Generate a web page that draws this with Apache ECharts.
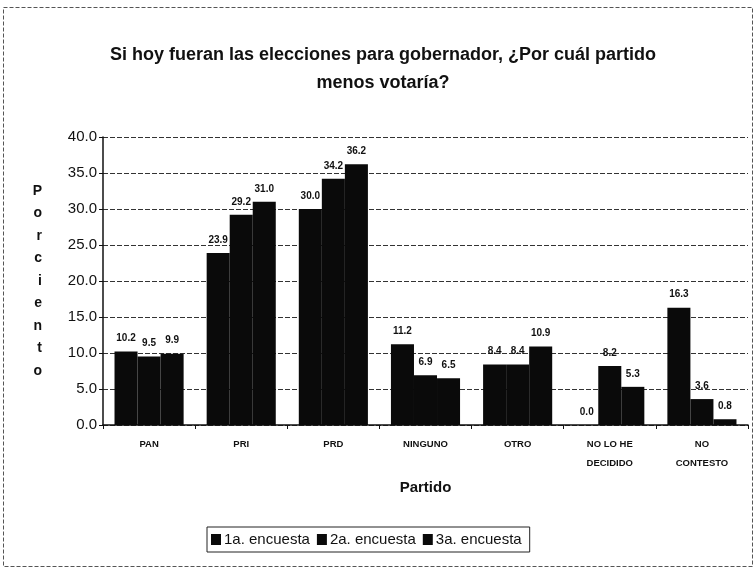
<!DOCTYPE html>
<html>
<head>
<meta charset="utf-8">
<script src="https://cdn.jsdelivr.net/npm/echarts@6/dist/echarts.min.js"></script>
<style>
    html, body { margin: 0; padding: 0; background: #fff; }
    #chart { width: 756px; height: 575px; }
</style>
</head>
<body>
<div id="chart"></div>
<script>
// 数据
const categories = ['PAN', 'PRI', 'PRD', 'NINGUNO', 'OTRO', 'NO LO HE\nDECIDIDO', 'NO\nCONTESTO'];
const encuesta1 = [10.2, 23.9, 30.0, 11.2, 8.4, 0.0, 16.3];
const encuesta2 = [9.5, 29.2, 34.2, 6.9, 8.4, 8.2, 3.6];
const encuesta3 = [9.9, 31.0, 36.2, 6.5, 10.9, 5.3, 0.8];
const seriesNames = ['1a. encuesta', '2a. encuesta', '3a. encuesta'];
const yTicks = [0, 5, 10, 15, 20, 25, 30, 35, 40];

const FONT = 'Liberation Sans Narrow, Liberation Sans, Arial, sans-serif';

const chart = echarts.init(document.getElementById('chart'));

function makeSeries(name, data) {
    return {
        name: name,
        type: 'bar',
        data: data,
        barGap: '0%',
        barCategoryGap: '25%',
        itemStyle: { color: '#0a0a0a' },
        label: {
            show: true,
            position: 'top',
            formatter: (p) => p.value.toFixed(1),
            color: '#111',
            fontFamily: FONT,
            fontWeight: 'bold',
            fontSize: 10,
            distance: 8
        }
    };
}

const option = {
    backgroundColor: '#fff',
    animation: false,
    title: {
        text: 'Si hoy fueran las elecciones para gobernador, ¿Por cuál partido\nmenos votaría?',
        left: 378,
        textAlign: 'center',
        top: 36,
        textStyle: {
            fontFamily: FONT,
            fontWeight: 'bold',
            fontSize: 18,
            lineHeight: 28,
            color: '#111'
        }
    },
    legend: {
        data: seriesNames,
        left: 207,
        top: 527,
        itemWidth: 10,
        itemHeight: 11,
        itemGap: 7,
        padding: [5, 8, 5, 4],
        borderColor: '#222',
        borderWidth: 1,
        icon: 'rect',
        textStyle: {
            fontFamily: 'Liberation Sans, Arial, sans-serif',
            fontSize: 15,
            color: '#111',
            padding: [0, 0, 0, -2]
        }
    },
    grid: {
        left: 103,
        right: 8,
        top: 137,
        bottom: 150
    },
    xAxis: {
        type: 'category',
        data: categories,
        name: 'Partido',
        nameLocation: 'middle',
        nameGap: 55,
        nameTextStyle: {
            fontFamily: FONT,
            fontWeight: 'bold',
            fontSize: 15,
            color: '#111'
        },
        axisLine: { lineStyle: { color: '#111', width: 1.5 } },
        axisTick: { show: true, length: 4, lineStyle: { color: '#111' } },
        axisLabel: {
            fontFamily: FONT,
            fontWeight: 'bold',
            fontSize: 9.5,
            color: '#111',
            margin: 10,
            lineHeight: 19,
            interval: 0
        }
    },
    yAxis: {
        type: 'value',
        min: yTicks[0],
        max: yTicks[yTicks.length - 1],
        interval: 5,
        name: 'P\no\nr\nc\ni\ne\nn\nt\no',
        nameLocation: 'middle',
        nameRotate: 0,
        nameGap: 61,
        nameTextStyle: {
            fontFamily: 'Liberation Sans, Arial, sans-serif',
            fontWeight: 'bold',
            fontSize: 14,
            lineHeight: 22.5,
            color: '#111'
        },
        axisLine: { show: true, lineStyle: { color: '#111', width: 1.5 } },
        axisTick: { show: true, length: 4, lineStyle: { color: '#111' } },
        axisLabel: {
            fontFamily: 'Liberation Sans, Arial, sans-serif',
            fontSize: 15,
            color: '#111',
            margin: 6,
            formatter: (v) => v.toFixed(1)
        },
        splitLine: {
            show: true,
            lineStyle: { color: '#333', type: [5, 2], width: 1 }
        }
    },
    graphic: [{
        type: 'rect',
        shape: { x: 3.5, y: 7.5, width: 749, height: 559 },
        style: { fill: 'none', stroke: '#555', lineWidth: 1, lineDash: [4, 2] },
        silent: true
    }],
    series: [
        makeSeries(seriesNames[0], encuesta1),
        makeSeries(seriesNames[1], encuesta2),
        makeSeries(seriesNames[2], encuesta3)
    ]
};

chart.setOption(option);
</script>
</body>
</html>
